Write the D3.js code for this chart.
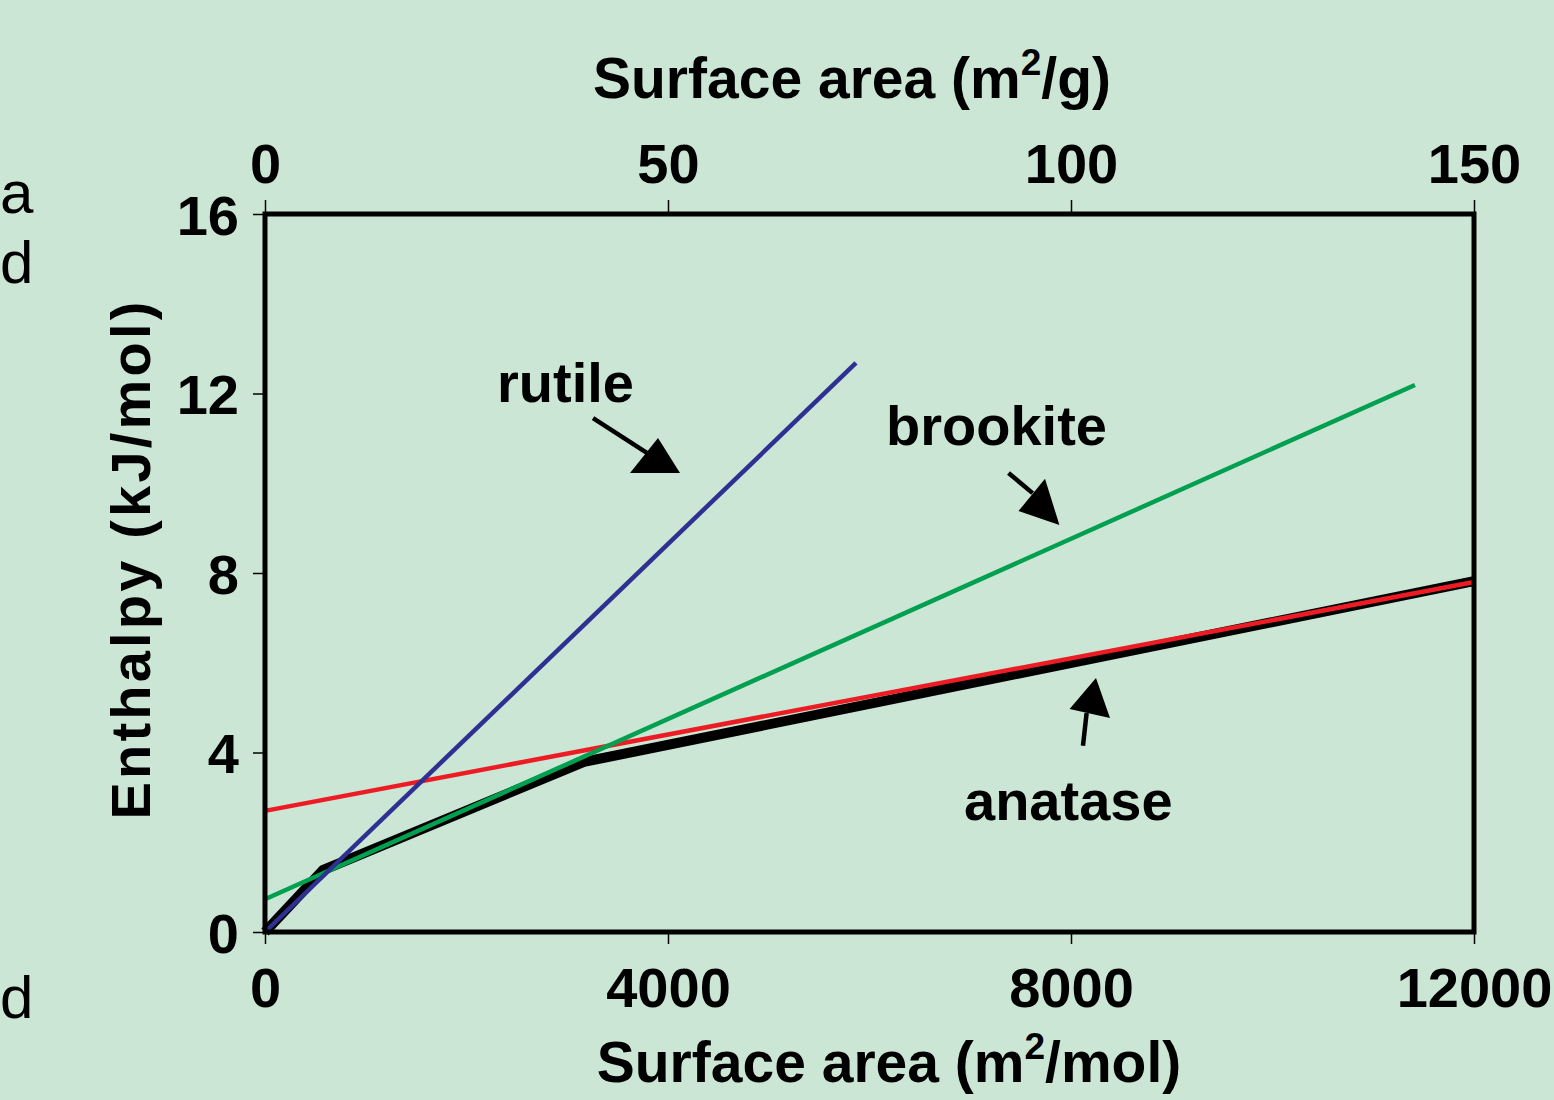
<!DOCTYPE html>
<html lang="en">
<head>
<meta charset="UTF-8">
<script src="https://d3js.org/d3.v7.min.js"></script>
<style>
  html, body { margin: 0; padding: 0; background: #cbe6d4; }
  svg { display: block; font-family: "Liberation Sans", Arial, sans-serif; }
</style>
</head>
<body>
<div id="chart"></div>
<script>
// Data (x in m2/mol, y in kJ/mol)
const rutileX = [0, 5866];
const rutileY = [0, 12.68];
const brookiteX = [0, 11414];
const brookiteY = [0.73, 12.19];
const anataseX = [0, 12000];
const anataseY = [2.70, 7.80];
const envelopeX = [0, 576, 3166, 12000];
const envelopeY = [0, 1.38, 3.79, 7.82];

const bottomTicks = [0, 4000, 8000, 12000];
const topTicks = [0, 50, 100, 150];
const leftTicks = [0, 4, 8, 12, 16];

// Annotation labels and arrows, in data units
const labels = [
  { text: "rutile", x: 2303, y: 11.81,
    tail: [[3256, 11.45], [3821, 10.63]],
    head: [[3901, 11.01], [3623, 10.23], [4119, 10.23]] },
  { text: "brookite", x: 6164, y: 10.85,
    tail: [[7380, 10.23], [7619, 9.78]],
    head: [[7742, 10.10], [7479, 9.38], [7885, 9.07]] },
  { text: "anatase", x: 6938, y: 2.50,
    tail: [[8119, 4.15], [8155, 4.88]],
    head: [[8248, 5.66], [7986, 4.97], [8387, 4.77]] }
];

const width = 1554;
const height = 1100;
const margin = { top: 214, right: 80, bottom: 168, left: 265 };
const innerWidth = width - margin.left - margin.right;
const innerHeight = height - margin.top - margin.bottom;

const svg = d3.select("#chart")
  .append("svg")
  .attr("width", width)
  .attr("height", height);

svg.append("rect")
  .attr("width", width)
  .attr("height", height)
  .attr("fill", "#cbe6d4");

// stray letters at the left edge
svg.append("text").attr("x", 0).attr("y", 213).attr("font-size", 60).text("a");
svg.append("text").attr("x", 0).attr("y", 283).attr("font-size", 60).text("d");
svg.append("text").attr("x", 0).attr("y", 1018).attr("font-size", 60).text("d");

const g = svg.append("g")
  .attr("transform", `translate(${margin.left},${margin.top})`);

const x = d3.scaleLinear().domain([0, 12000]).range([0, innerWidth]);
const xTop = d3.scaleLinear().domain([0, 150]).range([0, innerWidth]);
const y = d3.scaleLinear().domain([0, 16]).range([innerHeight, 0]);

const tickFont = 56;

// Axes
const gx = g.append("g")
  .attr("transform", `translate(0,${innerHeight})`)
  .call(d3.axisBottom(x).tickValues(bottomTicks).tickSize(12).tickFormat(d3.format("d")));
gx.selectAll("text").attr("y", 75).attr("dy", null);

const gt = g.append("g")
  .call(d3.axisTop(xTop).tickValues(topTicks).tickSize(14).tickFormat(d3.format("d")));
gt.selectAll("text").attr("y", -31).attr("dy", null);

const gy = g.append("g")
  .call(d3.axisLeft(y).tickValues(leftTicks).tickSize(12).tickFormat(d3.format("d")));
gy.selectAll("text").attr("x", -26).attr("dy", "0.36em");

[gx, gt, gy].forEach(a => {
  a.select(".domain").remove();
  a.selectAll(".tick line").attr("stroke", "#000").attr("stroke-width", 1.5);
  a.selectAll("text")
    .attr("fill", "#000")
    .attr("font-family", "Liberation Sans, Arial, sans-serif")
    .attr("font-weight", "bold")
    .attr("font-size", tickFont);
});

// Series
const line = d3.line().x(d => x(d[0])).y(d => y(d[1]));
const zip = (xs, ys) => xs.map((v, i) => [v, ys[i]]);

g.append("path")
  .datum(zip(envelopeX, envelopeY))
  .attr("d", line)
  .attr("fill", "none")
  .attr("stroke", "#000")
  .attr("stroke-width", 10)
  .attr("stroke-linejoin", "miter");

g.append("path")
  .datum(zip(anataseX, anataseY))
  .attr("d", line)
  .attr("fill", "none")
  .attr("stroke", "#ed1c24")
  .attr("stroke-width", 4.5);

g.append("path")
  .datum(zip(brookiteX, brookiteY))
  .attr("d", line)
  .attr("fill", "none")
  .attr("stroke", "#00a050")
  .attr("stroke-width", 4.5);

g.append("path")
  .datum(zip(rutileX, rutileY))
  .attr("d", line)
  .attr("fill", "none")
  .attr("stroke", "#2e3192")
  .attr("stroke-width", 4.5);

// Frame
g.append("rect")
  .attr("width", innerWidth)
  .attr("height", innerHeight)
  .attr("fill", "none")
  .attr("stroke", "#000")
  .attr("stroke-width", 5);

// Labels with arrows
labels.forEach(d => {
  g.append("text")
    .attr("x", x(d.x))
    .attr("y", y(d.y))
    .attr("font-weight", "bold")
    .attr("font-size", 56)
    .text(d.text);
  g.append("path")
    .datum(d.tail)
    .attr("d", line)
    .attr("stroke", "#000")
    .attr("stroke-width", 4.5);
  g.append("path")
    .datum(d.head)
    .attr("d", d3.line().x(p => x(p[0])).y(p => y(p[1])).curve(d3.curveLinearClosed))
    .attr("fill", "#000");
});

// Axis titles
svg.append("text")
  .attr("x", 852)
  .attr("y", 98)
  .attr("text-anchor", "middle")
  .attr("font-weight", "bold")
  .attr("font-size", 57)
  .html(`Surface area (m<tspan font-size="37" dy="-23">2</tspan><tspan dy="23">/g)</tspan>`);

svg.append("text")
  .attr("x", 889)
  .attr("y", 1082)
  .attr("text-anchor", "middle")
  .attr("font-weight", "bold")
  .attr("font-size", 57)
  .html(`Surface area (m<tspan font-size="37" dy="-23">2</tspan><tspan dy="23">/mol)</tspan>`);

svg.append("text")
  .attr("transform", "translate(150,559) rotate(-90)")
  .attr("text-anchor", "middle")
  .attr("font-weight", "bold")
  .attr("font-size", 56)
  .attr("letter-spacing", 3.2)
  .text("Enthalpy (kJ/mol)");
</script>
</body>
</html>
